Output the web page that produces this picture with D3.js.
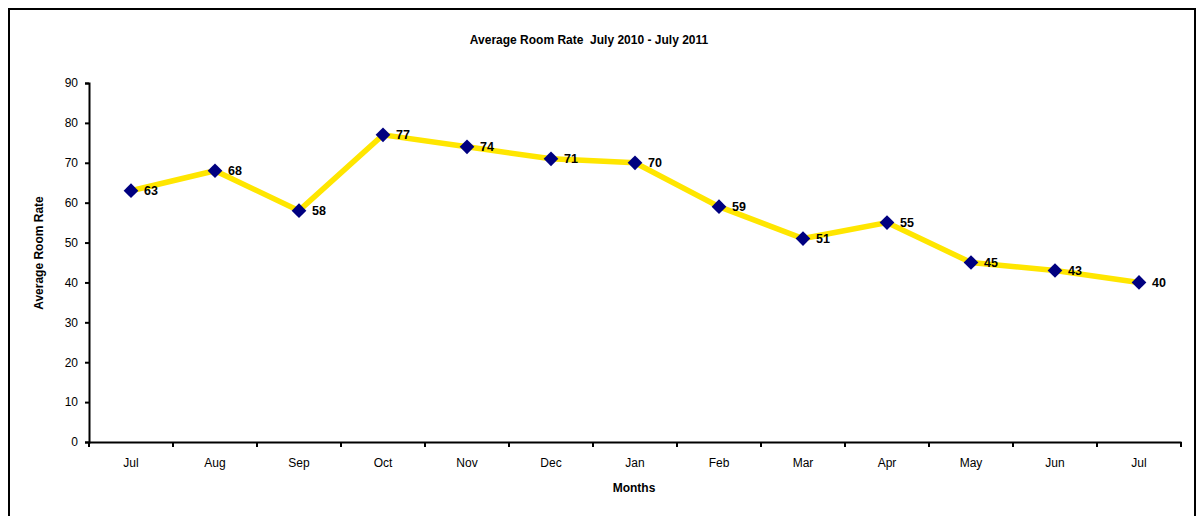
<!DOCTYPE html>
<html><head><meta charset="utf-8">
<script src="https://cdn.jsdelivr.net/npm/d3@7"></script>
<style>body{margin:0;background:#fff}svg{display:block}text{font-family:"Liberation Sans",Arial,sans-serif;white-space:pre}</style>
</head><body><svg id="c" width="1204" height="516"></svg>
<script>
const months = ["Jul","Aug","Sep","Oct","Nov","Dec","Jan","Feb","Mar","Apr","May","Jun","Jul"];
const values = [63,68,58,77,74,71,70,59,51,55,45,43,40];
const yTicks = [0,10,20,30,40,50,60,70,80,90];
const title = "Average Room Rate  July 2010 - July 2011";

const svg = d3.select("#c");
svg.append("rect").attr("x",9).attr("y",9).attr("width",1186).attr("height",520)
  .attr("fill","#fff").attr("stroke","#000").attr("stroke-width",2);

const L=89,R=1181,T=83,B=442;
const keys = months.map((m,i)=>i);
const x = d3.scaleBand().domain(keys).range([L,R]);
const y = d3.scaleLinear().domain([0,90]).range([B,T]);

const yAxis = svg.append("g").attr("transform",`translate(${L},0)`)
  .call(d3.axisLeft(y).tickValues(yTicks).tickSize(4).tickPadding(7));
const xAxis = svg.append("g").attr("transform",`translate(0,${B})`)
  .call(d3.axisBottom(x).tickFormat(i=>months[i]).tickSize(0).tickPadding(16.5));
[yAxis,xAxis].forEach(g=>{
  g.select(".domain").attr("stroke","#000").attr("stroke-width",2);
  g.selectAll("text").attr("font-size",12).attr("fill","#000").attr("font-family","Liberation Sans, Arial, sans-serif");
  g.selectAll("line").attr("stroke","#000").attr("stroke-width",2);
});
// x ticks at band boundaries
const bounds = keys.map(i=>x(i)).concat([x(keys[keys.length-1])+x.bandwidth()]);
svg.append("g").selectAll("line").data(bounds).join("line")
  .attr("x1",d=>d).attr("x2",d=>d).attr("y1",B).attr("y2",B+5)
  .attr("stroke","#000").attr("stroke-width",2);

const cx = i=>x(i)+x.bandwidth()/2;
svg.append("path").datum(values)
  .attr("d",d3.line().x((d,i)=>cx(i)).y(d=>y(d)))
  .attr("fill","none").attr("stroke","#FFE600").attr("stroke-width",5.5).attr("stroke-linejoin","miter");

svg.append("g").selectAll("path").data(values).join("path")
  .attr("d",d3.symbol(d3.symbolSquare,108)).attr("transform",(d,i)=>`translate(${cx(i)},${y(d)}) rotate(45)`)
  .attr("fill","#000080");

svg.append("g").selectAll("text").data(values).join("text")
  .attr("x",(d,i)=>cx(i)+13).attr("y",d=>y(d)+4.5)
  .attr("font-size",12.5).attr("font-weight","bold").attr("fill","#000").text(d=>d);

svg.append("text").attr("x",589).attr("y",44).attr("text-anchor","middle")
  .attr("font-size",12).attr("font-weight","bold").text(title);
svg.append("text").attr("x",634).attr("y",492).attr("text-anchor","middle")
  .attr("font-size",12).attr("font-weight","bold").text("Months");
svg.append("text").attr("transform","translate(43,253) rotate(-90)").attr("text-anchor","middle")
  .attr("font-size",12).attr("font-weight","bold").text("Average Room Rate");
</script></body></html>
